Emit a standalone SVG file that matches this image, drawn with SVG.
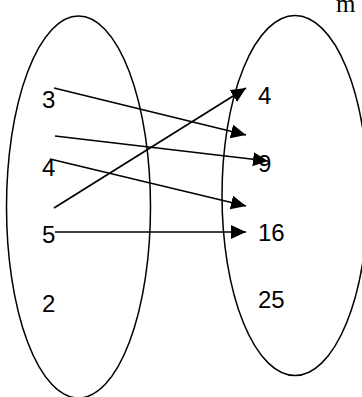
<svg xmlns="http://www.w3.org/2000/svg" width="362" height="397" viewBox="0 0 362 397">
<style>
.set{fill:none;stroke:#000;stroke-width:1.5}
.lbl{font-family:"Liberation Sans",Arial,sans-serif;font-size:24px;fill:#000}
.arr{stroke:#000;stroke-width:1.7;fill:none;marker-end:url(#ah)}
</style>
<defs>
<marker id="ah" markerUnits="userSpaceOnUse" markerWidth="16" markerHeight="15" refX="15" refY="7" orient="auto">
<path d="M0,0 L15,7 L0,14 Z" fill="#000"/>
</marker>
</defs>
<rect width="362" height="397" fill="#fff"/>
<text x="336" y="12" font-family="Liberation Serif,serif" font-size="25" fill="#000">m</text>
<g id="domain">
<ellipse class="set" cx="78.5" cy="207" rx="72" ry="191"/>
<text class="lbl" x="42" y="108">3</text>
<text class="lbl" x="42" y="176">4</text>
<text class="lbl" x="42" y="243">5</text>
<text class="lbl" x="42" y="312">2</text>
</g>
<g id="codomain">
<ellipse class="set" cx="295" cy="195.5" rx="73" ry="180"/>
<text class="lbl" x="258" y="104">4</text>
<text class="lbl" x="258" y="172">9</text>
<text class="lbl" x="258" y="241">16</text>
<text class="lbl" x="258" y="308">25</text>
</g>
<g id="connectors">
<line class="arr" x1="54" y1="88" x2="246" y2="135"/>
<line class="arr" x1="55" y1="136" x2="268" y2="161"/>
<line class="arr" x1="50" y1="159" x2="246" y2="206"/>
<line class="arr" x1="54" y1="208" x2="246" y2="88"/>
<line class="arr" x1="55" y1="232" x2="246" y2="232"/>
</g>
</svg>
